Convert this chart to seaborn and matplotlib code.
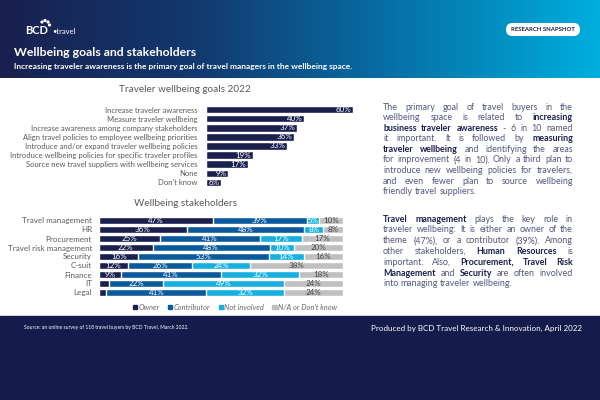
import numpy as np
import pandas as pd
import matplotlib
matplotlib.use("Agg")
import matplotlib.pyplot as plt
from matplotlib.colors import LinearSegmentedColormap
from matplotlib.patches import Rectangle, FancyBboxPatch, Patch
import seaborn as sns

# Traveler wellbeing goals 2022
goals = ["Increase traveler awareness",
         "Measure traveler wellbeing",
         "Increase awareness among company stakeholders",
         "Align travel policies to employee wellbeing priorities",
         "Introduce and/or expand traveler wellbeing policies",
         "Introduce wellbeing policies for specific traveler profiles",
         "Source new travel suppliers with wellbeing services",
         "None",
         "Don't know"]
goal_pct = [60, 40, 37, 36, 33, 19, 17, 9, 6]

# Wellbeing stakeholders
stakeholders = ["Travel management", "HR", "Procurement", "Travel risk management",
                "Security", "C-suit", "Finance", "IT", "Legal"]
owner = [47, 36, 25, 22, 16, 12, 9, 4, 3]
contributor = [39, 48, 41, 48, 53, 26, 41, 22, 41]
not_involved = [5, 8, 17, 10, 14, 24, 32, 49, 32]
na_dont_know = [10, 8, 17, 20, 16, 38, 18, 24, 24]
roles = ["Owner", "Contributor", "Not involved", "N/A or Don't know"]

NAVY = "#1a1f4e"
role_colors = [NAVY, "#0a5a9c", "#16b0e0", "#c0c0c0"]
GRAY = "#5a5a5a"

sns.set_theme(style="white")
plt.rcParams["font.family"] = ["Lato", "DejaVu Sans"]

fig = plt.figure(figsize=(6, 4), dpi=100)

# background axes in pixel coordinates
bg = fig.add_axes([0, 0, 1, 1])
bg.set_xlim(0, 600)
bg.set_ylim(400, 0)
bg.axis("off")

grad = LinearSegmentedColormap.from_list("hdr", ["#19204f", "#123a70", "#0672a8", "#00aedd"])
bg.imshow(np.linspace(0, 1, 300).reshape(1, -1), cmap=grad, aspect="auto",
          extent=(0, 600, 78, 0), zorder=0)
bg.add_patch(Rectangle((0, 316), 600, 84, color="#151b4b", zorder=0))

# logo
bg.text(25, 31, "BCD", color="white", fontsize=8, weight="bold", va="center")
for dx, dy in [(42, 22), (45, 20.5), (48, 22), (49.5, 25)]:
    bg.add_patch(plt.Circle((dx, dy), 0.9, color="white"))
bg.text(52, 31, "•travel", color="white", fontsize=5.5, va="center")

# pill
bg.add_patch(FancyBboxPatch((506, 23), 74, 13, boxstyle="round,pad=0,rounding_size=6.5",
                            fc="white", ec="none"))
bg.text(543, 29.5, "RESEARCH SNAPSHOT", color=NAVY, fontsize=4.3, weight="bold",
        ha="center", va="center")

bg.text(14, 52, "Wellbeing goals and stakeholders", color="white", fontsize=8.8,
        weight="bold", va="center")
bg.text(14, 67, "Increasing traveler awareness is the primary goal of travel managers in the wellbeing space.",
        color="white", fontsize=6.0, weight="bold", va="center")

# footer
bg.text(24, 328, "Source: an online survey of 118 travel buyers by BCD Travel, March 2022.",
        color="white", fontsize=3.6, va="center")
bg.text(582, 328, "Produced by BCD Travel Research & Innovation, April 2022",
        color="white", fontsize=5.8, va="center", ha="right")

# goals chart
ax1 = fig.add_axes([206 / 600, 1 - 187 / 400, 147 / 600, 82 / 400])
gdf = pd.DataFrame({"goal": goals, "pct": goal_pct})
sns.barplot(data=gdf, x="pct", y="goal", orient="h", color=NAVY, saturation=1,
            width=0.82, ax=ax1)
for i, v in enumerate(goal_pct):
    ax1.text(v - 0.6, i, f"{v}%", color="white", fontsize=5.8, ha="right", va="center")
ax1.set_xlim(0, 60)
ax1.set_ylim(len(goals) - 0.5, -0.5)
ax1.set_xlabel("")
ax1.set_ylabel("")
ax1.set_xticks([])
ax1.tick_params(axis="y", length=0, pad=6, labelsize=5.5, labelcolor=GRAY)
sns.despine(ax=ax1, left=True, bottom=True)
bg.text(185, 89, "Traveler wellbeing goals 2022", color=GRAY, fontsize=7.2,
        ha="center", va="center")

# stakeholders chart
ax2 = fig.add_axes([99 / 600, 1 - 297 / 400, 244 / 600, 81 / 400])
parts = np.array([owner, contributor, not_involved, na_dont_know], dtype=float)
share = parts / parts.sum(axis=0) * 100
cum = np.cumsum(share, axis=0)
for k in range(3, -1, -1):
    sns.barplot(x=cum[k], y=stakeholders, orient="h", color=role_colors[k],
                saturation=1, width=0.78, ax=ax2)
for k in range(4):
    mids = cum[k] - share[k] / 2
    for i in range(len(stakeholders)):
        v = parts[k, i]
        if v >= 5:
            ax2.text(mids[i], i, f"{int(v)}%", fontsize=5.8, ha="center", va="center",
                     color="#444444" if k == 3 else "white")
ax2.set_xlim(0, 100)
ax2.set_ylim(len(stakeholders) - 0.5, -0.5)
ax2.set_xlabel("")
ax2.set_ylabel("")
ax2.set_xticks([])
ax2.tick_params(axis="y", length=0, pad=5, labelsize=5.8, labelcolor=GRAY)
sns.despine(ax=ax2, left=True, bottom=True)
bg.text(185, 204, "Wellbeing stakeholders", color=GRAY, fontsize=7.2,
        ha="center", va="center")

handles = [Patch(color=c) for c in role_colors]
fig.legend(handles, roles, loc="center", bbox_to_anchor=(235 / 600, 1 - 307 / 400),
           ncol=4, frameon=False, handlelength=0.55, handleheight=0.55,
           handletextpad=0.2, columnspacing=1.1, labelcolor="#666666",
           prop={"family": "Lato", "style": "italic", "size": 5.4})

# right-hand justified text
para1 = ["The primary goal of travel buyers in the",
         "wellbeing space is related to **increasing**",
         "**business traveler awareness** - 6 in 10 named",
         "it important. It is followed by **measuring**",
         "**traveler wellbeing** and identifying the areas",
         "for improvement (4 in 10). Only a third plan to",
         "introduce new wellbeing policies for travelers,",
         "and even fewer plan to source wellbeing",
         "friendly travel suppliers."]
para2 = ["**Travel management** plays the key role in",
         "traveler wellbeing: It is either an owner of the",
         "theme (47%), or a contributor (39%). Among",
         "other stakeholders, **Human Resources** is",
         "important. Also, **Procurement, Travel Risk**",
         "**Management** and **Security** are often involved",
         "into managing traveler wellbeing."]

renderer = fig.canvas.get_renderer()
TXT = "#53587f"
FS = 6.4


def width_of(t):
    return t.get_window_extent(renderer).width


def justified(lines, x0, x1, y0, dy):
    probe = bg.text(0, 0, "a a", fontsize=FS)
    probe2 = bg.text(0, 0, "aa", fontsize=FS)
    space = width_of(probe) - width_of(probe2)
    probe.remove()
    probe2.remove()
    for n, line in enumerate(lines):
        tokens = []
        for j, seg in enumerate(line.split("**")):
            for w in seg.split():
                tokens.append((w, j % 2 == 1))
        objs = []
        for w, b in tokens:
            objs.append(bg.text(0, y0 + n * dy, w, fontsize=FS, va="center",
                                weight="bold" if b else "normal",
                                color=NAVY if b else TXT))
        widths = [width_of(t) for t in objs]
        if n == len(lines) - 1:
            gap = space
        else:
            gap = (x1 - x0 - sum(widths)) / (len(objs) - 1)
        x = x0
        for t, w in zip(objs, widths):
            t.set_x(x)
            x += w + gap


justified(para1, 383, 573, 107, 10.6)
justified(para2, 383, 573, 219, 10.8)

fig.savefig("out.png", dpi=100)
